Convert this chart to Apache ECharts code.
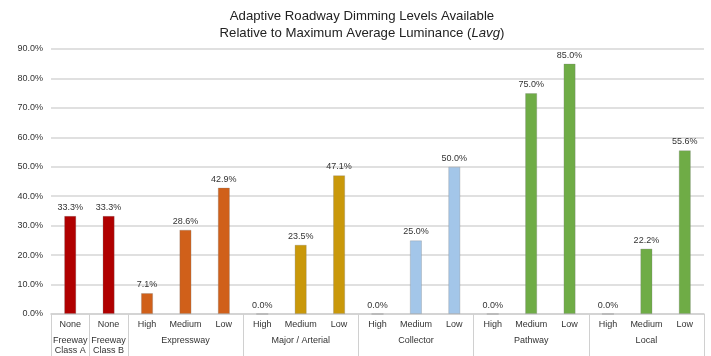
<!DOCTYPE html>
<html>
<head>
<meta charset="utf-8">
<script src="https://cdn.jsdelivr.net/npm/echarts@6/dist/echarts.min.js"></script>
<style>html,body{margin:0;padding:0;background:#fff;}#c{width:711px;height:356px;}</style>
</head>
<body>
<div id="c"></div>
<script>
// Data
const levels = ['None','None','High','Medium','Low','High','Medium','Low','High','Medium','Low','High','Medium','Low','High','Medium','Low'];
const groups = ['Freeway Class A','Freeway Class B','Expressway','Expressway','Expressway','Major / Arterial','Major / Arterial','Major / Arterial','Collector','Collector','Collector','Pathway','Pathway','Pathway','Local','Local','Local'];
const groupLabels = ['Freeway\nClass A','Freeway\nClass B','','Expressway','','','Major / Arterial','','','Collector','','','Pathway','','','Local',''];
const values = [33.3, 33.3, 7.1, 28.6, 42.9, 0.0, 23.5, 47.1, 0.0, 25.0, 50.0, 0.0, 75.0, 85.0, 0.0, 22.2, 55.6];
const yTicks = [0, 10, 20, 30, 40, 50, 60, 70, 80, 90];

const groupColors = {
  'Freeway Class A': '#b00000',
  'Freeway Class B': '#b00000',
  'Expressway': '#d0601a',
  'Major / Arterial': '#c9980a',
  'Collector': '#a3c6e9',
  'Pathway': '#6fac46',
  'Local': '#6fac46'
};
const boundaries = new Set();
for (let i = 0; i < groups.length; i++) {
  if (i === 0 || groups[i] !== groups[i - 1]) boundaries.add(i);
}

const font = 'Liberation Sans, Arial, Helvetica, sans-serif';
const chart = echarts.init(document.getElementById('c'));
chart.setOption({
  animation: false,
  title: {
    text: 'Adaptive Roadway Dimming Levels Available\nRelative to Maximum Average Luminance ({i|Lavg})',
    left: 357,
    textAlign: 'center',
    top: 3,
    textStyle: {
      fontFamily: font, fontSize: 13.2, fontWeight: 'normal', color: '#222', lineHeight: 17,
      rich: { i: { fontStyle: 'italic', fontFamily: font, fontSize: 13.2, color: '#222', lineHeight: 17 } }
    }
  },
  grid: { left: 51, right: 7, top: 49, bottom: 40, containLabel: false },
  yAxis: {
    type: 'value', min: yTicks[0], max: yTicks[yTicks.length - 1], interval: 10,
    axisLine: { show: false }, axisTick: { show: false },
    axisLabel: { formatter: v => v.toFixed(1) + '%', fontFamily: font, fontSize: 9, color: '#333', margin: 8 },
    splitLine: { lineStyle: { color: '#d6d6d6', width: 1.6 } }
  },
  xAxis: [
    {
      type: 'category', data: levels, position: 'bottom',
      axisLine: { lineStyle: { color: '#d0d0d0', width: 1.6 } },
      axisTick: {
        show: true, length: 42, interval: (i) => boundaries.has(i),
        lineStyle: { color: '#d0d0d0', width: 1 }
      },
      axisLabel: { interval: 0, fontFamily: font, fontSize: 9, color: '#333', margin: 6, lineHeight: 10 }
    },
    {
      type: 'category', data: groupLabels, position: 'bottom', gridIndex: 0,
      axisLine: { show: false }, axisTick: { show: false },
      axisLabel: { interval: 0, fontFamily: font, fontSize: 9, color: '#333', margin: 22, lineHeight: 10 }
    }
  ],
  series: [{
    type: 'bar', xAxisIndex: 0,
    barWidth: 12,
    data: values.map((v, i) => ({
      value: v,
      itemStyle: { color: groupColors[groups[i]], borderColor: 'rgba(120,120,120,0.35)', borderWidth: 0.8 }
    })),
    label: {
      show: true, position: 'top', distance: 4,
      formatter: p => p.value.toFixed(1) + '%',
      fontFamily: font, fontSize: 9, color: '#333'
    }
  }]
});
</script>
</body>
</html>
